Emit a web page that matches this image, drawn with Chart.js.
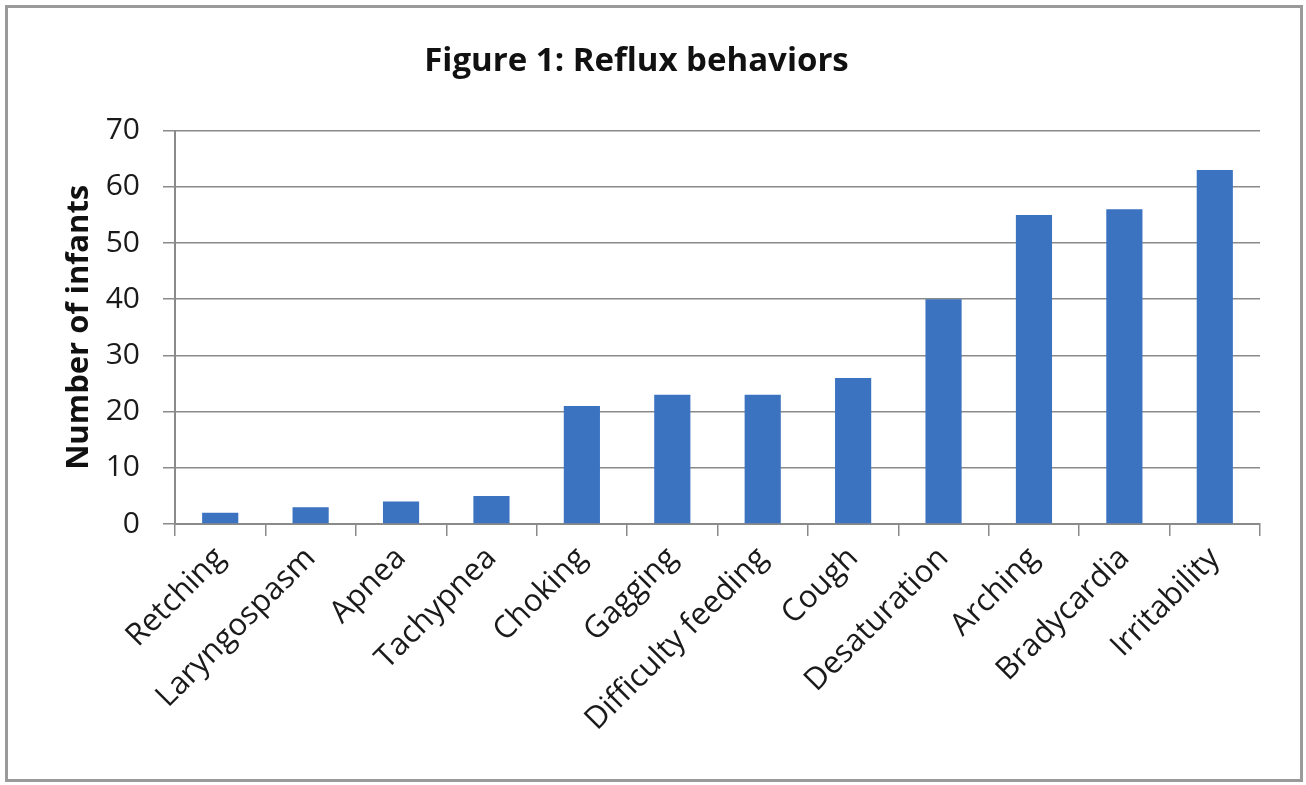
<!DOCTYPE html>
<html>
<head>
<meta charset="utf-8">
<script src="https://cdn.jsdelivr.net/npm/chart.js@4"></script>
<style>
  html, body { margin: 0; padding: 0; background: #fff; }
  #frame {
    position: absolute; left: 5px; top: 5px;
    width: 1298px; height: 777px;
    box-sizing: border-box;
    border: 3px solid #9a9a9a;
    background: #fff;
  }
  #frame canvas { display: block; }
</style>
</head>
<body>
<div id="frame"><canvas id="refluxChart" width="1292" height="771"></canvas></div>
<script>
const behaviors = ['Retching', 'Laryngospasm', 'Apnea', 'Tachypnea', 'Choking', 'Gagging',
  'Difficulty feeding', 'Cough', 'Desaturation', 'Arching', 'Bradycardia', 'Irritability'];
const infants = [2, 3, 4, 5, 21, 23, 23, 26, 40, 55, 56, 63];
const yTicks = [0, 10, 20, 30, 40, 50, 60, 70];

const FONT = "'Open Sans', 'DejaVu Sans', sans-serif";
const gridGrey = '#8a8a8a';

const ctx = document.getElementById('refluxChart').getContext('2d');

new Chart(ctx, {
  type: 'bar',
  data: {
    labels: behaviors,
    datasets: [{
      label: 'Number of infants',
      data: infants,
      backgroundColor: '#3b73c1',
      barPercentage: 0.4,
      categoryPercentage: 1
    }]
  },
  options: {
    responsive: false,
    animation: false,
    layout: { padding: { left: 5, right: 40, top: 0, bottom: 0 } },
    plugins: {
      legend: { display: false },
      tooltip: { enabled: false },
      title: {
        display: true,
        text: 'Figure 1: Reflux behaviors',
        color: '#111',
        font: { family: FONT, size: 33, weight: 'bold', lineHeight: 1.2 },
        padding: { top: 34, bottom: 49 }
      }
    },
    scales: {
      x: {
        grid: {
          display: true,
          drawOnChartArea: false,
          offset: true,
          color: gridGrey,
          lineWidth: 1.5,
          tickLength: 12
        },
        border: { display: true, color: gridGrey, width: 2 },
        ticks: {
          color: '#1a1a1a',
          font: { family: FONT, size: 31 },
          minRotation: 45,
          maxRotation: 45,
          padding: 4,
          autoSkip: false
        },
        afterFit: (scale) => { scale.height = 255; }
      },
      y: {
        min: 0,
        max: 70,
        afterBuildTicks: (scale) => { scale.ticks = yTicks.map(v => ({ value: v })); },
        grid: {
          color: gridGrey,
          lineWidth: 1.5,
          tickLength: 12
        },
        border: { display: true, color: gridGrey, width: 2 },
        ticks: {
          color: '#1a1a1a',
          font: { family: FONT, size: 30 },
          padding: 23
        },
        title: {
          display: true,
          text: 'Number of infants',
          color: '#111',
          font: { family: FONT, size: 31, weight: 'bold', lineHeight: 1.2 },
          padding: { top: 48, bottom: 0 }
        },
        afterFit: (scale) => { scale.width = 162; }
      }
    }
  }
});
</script>
</body>
</html>
